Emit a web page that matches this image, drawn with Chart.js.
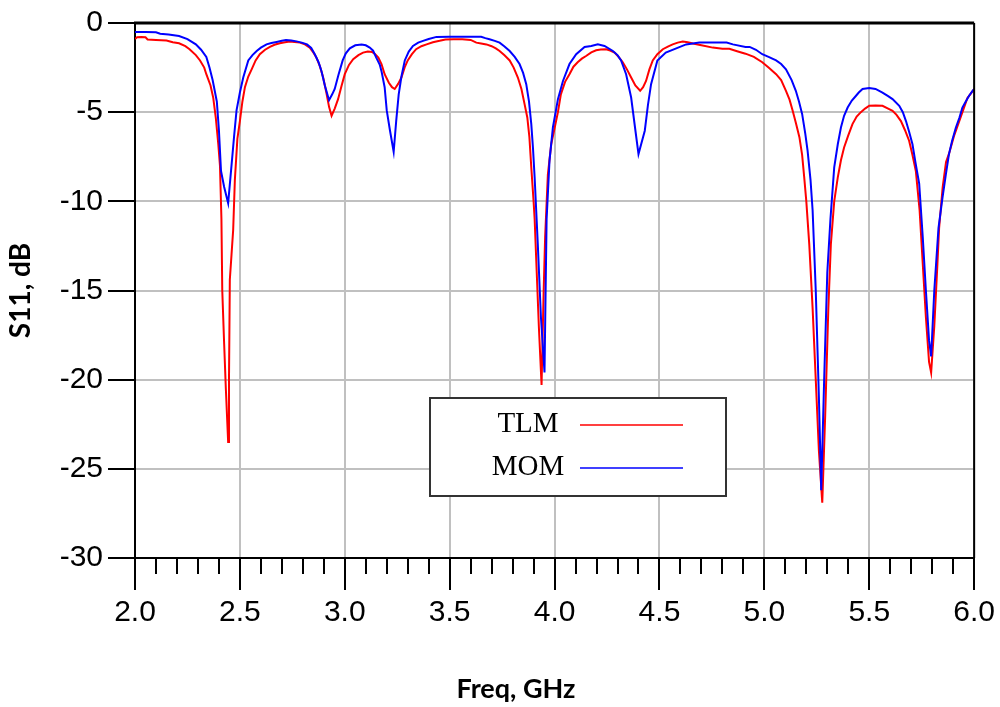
<!DOCTYPE html>
<html>
<head>
<meta charset="utf-8">
<script src="https://cdn.jsdelivr.net/npm/chart.js@4.4.1/dist/chart.umd.min.js"></script>
<style>
  html, body { margin: 0; padding: 0; background: #fff; }
  #wrap { width: 1000px; height: 707px; }
</style>
</head>
<body>
<div id="wrap"><canvas id="s11" width="1000" height="707"></canvas></div>
<script>
// ----------------------
// DATA (S11 in dB vs frequency in GHz)
// ----------------------
const freqTicks = [2.0, 2.5, 3.0, 3.5, 4.0, 4.5, 5.0, 5.5, 6.0];
const dbTicks = [0, -5, -10, -15, -20, -25, -30];

const freqTlm = [
  2.00, 2.01, 2.03, 2.05, 2.06, 2.10, 2.15, 2.18, 2.21, 2.24, 2.26, 2.29, 2.31, 2.33, 2.34, 2.36,
  2.373, 2.385, 2.397, 2.405, 2.412, 2.416, 2.425, 2.433, 2.444, 2.448, 2.452, 2.460, 2.468, 2.476,
  2.488, 2.500, 2.512, 2.524, 2.540, 2.556, 2.575, 2.595, 2.62, 2.643, 2.665, 2.69, 2.715, 2.738,
  2.76, 2.786, 2.81, 2.833, 2.85, 2.865, 2.882, 2.897, 2.912, 2.925, 2.937, 2.952, 2.968, 2.985,
  3.00, 3.02, 3.04, 3.065, 3.087, 3.11, 3.13, 3.145, 3.16, 3.175, 3.19, 3.21, 3.225, 3.238, 3.255,
  3.27, 3.285, 3.30, 3.32, 3.34, 3.365, 3.39, 3.42, 3.452, 3.48, 3.52, 3.56, 3.60, 3.627, 3.65,
  3.675, 3.70, 3.72, 3.738, 3.76, 3.786, 3.805, 3.825, 3.842, 3.857, 3.870, 3.880, 3.889, 3.900,
  3.905, 3.915, 3.925, 3.938, 3.948, 3.955, 3.968, 3.984, 4.00, 4.016, 4.03, 4.05, 4.071, 4.09,
  4.11, 4.13, 4.15, 4.175, 4.198, 4.22, 4.246, 4.265, 4.286, 4.305, 4.325, 4.345, 4.365, 4.385,
  4.408, 4.422, 4.436, 4.452, 4.468, 4.49, 4.516, 4.54, 4.563, 4.587, 4.611, 4.635, 4.659, 4.70,
  4.754, 4.80, 4.833, 4.87, 4.91, 4.95, 4.99, 5.02, 5.056, 5.08, 5.103, 5.12, 5.135, 5.15, 5.167,
  5.18, 5.19, 5.20, 5.214, 5.23, 5.245, 5.26, 5.276, 5.29, 5.305, 5.317, 5.333, 5.35, 5.365, 5.38,
  5.40, 5.42, 5.44, 5.46, 5.48, 5.50, 5.53, 5.563, 5.59, 5.611, 5.63, 5.651, 5.67, 5.69, 5.706,
  5.722, 5.74, 5.755, 5.77, 5.785, 5.795, 5.81, 5.825, 5.833, 5.85, 5.866, 5.881, 5.905, 5.929,
  5.95, 5.968, 5.985, 6.00
];
const s11Tlm = [
  -0.90, -0.80, -0.78, -0.80, -0.92, -0.95, -0.98, -1.08, -1.14, -1.30, -1.47, -1.80, -2.10, -2.50, -2.87, -3.50,
  -4.20, -5.30, -6.80, -8.0, -11.0, -15.0, -18.0, -20.5, -23.5, -20.0, -14.4, -13.0, -11.6, -8.8,
  -6.5, -5.5, -4.4, -3.6, -3.0, -2.6, -2.1, -1.75, -1.50, -1.34, -1.22, -1.14, -1.08, -1.04,
  -1.06, -1.10, -1.20, -1.38, -1.65, -1.94, -2.45, -3.06, -3.90, -4.70, -5.20, -4.80, -4.27, -3.50,
  -2.87, -2.35, -2.03, -1.80, -1.66, -1.60, -1.62, -1.75, -1.94, -2.30, -2.87, -3.35, -3.60, -3.70, -3.40,
  -3.06, -2.50, -2.10, -1.75, -1.47, -1.30, -1.20, -1.08, -1.00, -0.92, -0.91, -0.91, -0.95, -1.10, -1.15,
  -1.20, -1.30, -1.42, -1.57, -1.80, -2.10, -2.50, -3.06, -3.70, -4.55, -5.30, -6.40, -8.10, -10.0,
  -11.0, -14.0, -17.0, -20.3, -15.0, -12.0, -8.5, -6.8, -5.9, -5.0, -4.0, -3.3, -2.87, -2.45,
  -2.20, -2.00, -1.85, -1.65, -1.53, -1.48, -1.47, -1.55, -1.66, -1.90, -2.20, -2.60, -3.06, -3.50,
  -3.80, -3.60, -3.25, -2.60, -2.10, -1.75, -1.47, -1.32, -1.20, -1.10, -1.04, -1.08, -1.15, -1.25,
  -1.38, -1.45, -1.45, -1.58, -1.72, -1.90, -2.20, -2.50, -2.87, -3.20, -3.80, -4.30, -4.92, -5.60, -6.40,
  -7.40, -8.66, -10.0, -12.4, -16.0, -20.0, -24.0, -26.9, -22.0, -16.0, -12.4, -10.0, -8.66, -7.70, -6.98,
  -6.30, -5.67, -5.25, -5.00, -4.80, -4.64, -4.62, -4.64, -4.80, -4.92, -5.15, -5.50, -6.00, -6.60, -7.40,
  -8.30, -10.5, -13.5, -16.5, -19.0, -19.6, -17.0, -13.5, -11.5, -9.2, -7.8, -7.3, -6.3, -5.5,
  -4.8, -4.2, -3.95, -3.70
];

const freqMom = [
  2.00, 2.05, 2.10, 2.12, 2.16, 2.21, 2.25, 2.29, 2.315, 2.34, 2.355, 2.37, 2.39, 2.40, 2.41, 2.425,
  2.444, 2.46, 2.472, 2.484, 2.50, 2.516, 2.54, 2.56, 2.58, 2.60, 2.627, 2.65, 2.675, 2.70, 2.72,
  2.745, 2.77, 2.795, 2.82, 2.84, 2.857, 2.875, 2.889, 2.905, 2.925, 2.94, 2.952, 2.97, 2.99, 3.005,
  3.024, 3.05, 3.08, 3.10, 3.119, 3.135, 3.15, 3.167, 3.175, 3.19, 3.20, 3.215, 3.233, 3.245, 3.257,
  3.27, 3.286, 3.305, 3.325, 3.35, 3.373, 3.40, 3.437, 3.50, 3.55, 3.60, 3.65, 3.67, 3.69, 3.715,
  3.738, 3.76, 3.786, 3.81, 3.833, 3.85, 3.865, 3.878, 3.889, 3.897, 3.905, 3.92, 3.935, 3.952,
  3.962, 3.976, 3.992, 4.016, 4.04, 4.071, 4.103, 4.143, 4.175, 4.206, 4.238, 4.278, 4.30, 4.317,
  4.341, 4.365, 4.385, 4.40, 4.43, 4.445, 4.46, 4.49, 4.53, 4.58, 4.627, 4.69, 4.75, 4.82, 4.85,
  4.91, 4.93, 4.96, 4.99, 5.02, 5.056, 5.08, 5.103, 5.13, 5.15, 5.165, 5.18, 5.195, 5.206, 5.22,
  5.23, 5.245, 5.26, 5.271, 5.285, 5.30, 5.315, 5.333, 5.35, 5.365, 5.38, 5.397, 5.417, 5.437,
  5.45, 5.468, 5.50, 5.53, 5.563, 5.59, 5.611, 5.643, 5.66, 5.675, 5.69, 5.706, 5.72, 5.738, 5.755,
  5.77, 5.785, 5.795, 5.81, 5.83, 5.849, 5.865, 5.88, 5.895, 5.913, 5.93, 5.944, 5.96, 5.976,
  5.99, 6.00
];
const s11Mom = [
  -0.50, -0.50, -0.52, -0.60, -0.65, -0.73, -0.90, -1.20, -1.50, -1.90, -2.50, -3.20, -4.40, -6.00, -8.30, -9.2,
  -10.1, -8.0, -6.4, -4.9, -3.9, -3.06, -2.10, -1.80, -1.57, -1.38, -1.20, -1.12, -1.06, -1.00, -0.95,
  -0.98, -1.03, -1.10, -1.20, -1.40, -1.75, -2.20, -2.70, -3.50, -4.33, -4.00, -3.70, -2.90, -2.10, -1.70,
  -1.42, -1.25, -1.20, -1.25, -1.38, -1.55, -1.94, -2.35, -2.70, -3.60, -4.90, -6.0, -7.22, -5.5, -4.00,
  -3.00, -2.10, -1.60, -1.29, -1.10, -1.00, -0.90, -0.78, -0.77, -0.77, -0.77, -0.77, -0.85, -0.91, -1.00,
  -1.10, -1.30, -1.57, -1.90, -2.30, -2.80, -3.43, -4.40, -5.67, -7.0, -8.66, -12.4, -16.5, -19.6,
  -11.0, -7.7, -5.86, -4.27, -3.25, -2.30, -1.75, -1.34, -1.29, -1.20, -1.29, -1.57, -1.80, -2.10,
  -2.87, -4.18, -6.0, -7.35, -6.04, -4.6, -3.43, -2.10, -1.66, -1.42, -1.20, -1.10, -1.10, -1.10, -1.20,
  -1.34, -1.34, -1.50, -1.75, -1.90, -2.10, -2.30, -2.60, -3.20, -3.80, -4.40, -5.10, -6.2, -7.16, -8.8,
  -10.5, -15.0, -21.0, -26.2, -20.0, -14.0, -11.0, -8.1, -6.8, -5.86, -5.20, -4.74, -4.35, -4.08,
  -3.90, -3.70, -3.65, -3.70, -3.90, -4.10, -4.27, -4.64, -5.00, -5.50, -6.10, -6.80, -7.80, -9.0, -12.0,
  -15.0, -17.8, -18.7, -15.0, -11.5, -9.8, -8.5, -7.35, -6.6, -5.86, -5.3, -4.74, -4.40, -4.08,
  -3.85, -3.70
];

// ----------------------
// EXTRA DRAWING: frame, minor ticks, x title, legend box
// ----------------------
const titleFont = "bold 27px Lato, 'Open Sans', sans-serif";
const legendFont = "29px 'Liberation Serif', 'Times New Roman', serif";

const decor = {
    id: "decor",
    afterDraw(chart) {
        const ctx = chart.ctx;
        const a = chart.chartArea;
        const xs = chart.scales.x;
        ctx.save();

        // frame top/right
        ctx.strokeStyle = "#000";
        ctx.lineWidth = 3;
        ctx.beginPath();
        ctx.moveTo(a.left - 1, a.top);
        ctx.lineTo(a.right, a.top);
        ctx.stroke();
        ctx.lineWidth = 2;
        ctx.beginPath();
        ctx.moveTo(a.right, a.top);
        ctx.lineTo(a.right, a.bottom);
        ctx.stroke();

        // minor ticks every 0.1 GHz
        ctx.lineWidth = 2;
        for (let i = 1; i < 40; i++) {
            if (i % 5 === 0) continue;
            const px = Math.round(xs.getPixelForValue(2 + i * 0.1));
            ctx.beginPath();
            ctx.moveTo(px, a.bottom);
            ctx.lineTo(px, a.bottom + 16);
            ctx.stroke();
        }

        // x axis title
        ctx.fillStyle = "#000";
        ctx.font = titleFont;
        ctx.textAlign = "center";
        ctx.textBaseline = "alphabetic";
        ctx.fillText("Freq, GHz", 516, 698);

        // legend box
        ctx.fillStyle = "#fff";
        ctx.fillRect(430, 398, 296, 98);
        ctx.strokeStyle = "#333";
        ctx.lineWidth = 2;
        ctx.strokeRect(430, 398, 296, 98);
        ctx.font = legendFont;
        chart.data.datasets.forEach((ds, i) => {
            const y = 425 + i * 43;
            ctx.fillStyle = "#000";
            ctx.textAlign = "center";
            ctx.fillText(ds.label, 528, y + 7);
            ctx.strokeStyle = ds.borderColor;
            ctx.lineWidth = 1.5;
            ctx.beginPath();
            ctx.moveTo(580, y);
            ctx.lineTo(683, y);
            ctx.stroke();
        });
        ctx.restore();
    }
};

// ----------------------
// CHART
// ----------------------
const gridOpts = {
    color: "#c0c0c0",
    lineWidth: 2,
    tickColor: "#000",
    tickWidth: 2
};

new Chart(document.getElementById("s11"), {
    type: "line",
    data: {
        datasets: [
            {
                label: "TLM",
                data: freqTlm.map((f, i) => ({ x: f, y: s11Tlm[i] })),
                borderColor: "#ff0000",
                borderWidth: 2,
                pointRadius: 0,
                tension: 0,
                order: 2
            },
            {
                label: "MOM",
                data: freqMom.map((f, i) => ({ x: f, y: s11Mom[i] })),
                borderColor: "#0000ff",
                borderWidth: 2,
                pointRadius: 0,
                tension: 0,
                order: 1
            }
        ]
    },
    options: {
        responsive: false,
        animation: false,
        devicePixelRatio: 1,
        layout: { padding: { top: 22, right: 25, left: 0, bottom: 0 } },
        plugins: {
            legend: { display: false },
            tooltip: { enabled: false }
        },
        scales: {
            x: {
                type: "linear",
                min: 2,
                max: 6,
                afterBuildTicks: (s) => { s.ticks = freqTicks.map(v => ({ value: v })); },
                afterFit: (s) => { s.height = 149; },
                grid: { ...gridOpts, tickLength: 32 },
                border: { color: "#000", width: 2 },
                ticks: {
                    color: "#000",
                    font: { family: "'Liberation Sans', Arial, sans-serif", size: 30 },
                    padding: 5,
                    maxRotation: 0,
                    callback: (v) => Number(v).toFixed(1)
                }
            },
            y: {
                min: -30,
                max: 0,
                afterBuildTicks: (s) => { s.ticks = dbTicks.map(v => ({ value: v })); },
                afterFit: (s) => { s.width = 135; },
                grid: { ...gridOpts, tickLength: 27 },
                border: { color: "#000", width: 2 },
                ticks: {
                    color: "#000",
                    font: { family: "'Liberation Sans', Arial, sans-serif", size: 30 },
                    padding: 5
                },
                title: {
                    display: true,
                    text: "S11, dB",
                    color: "#000",
                    font: { family: "Lato, 'Open Sans', sans-serif", size: 28, weight: "bold" },
                    padding: { top: 4, bottom: 0 }
                }
            }
        }
    },
    plugins: [decor]
});
</script>
</body>
</html>
